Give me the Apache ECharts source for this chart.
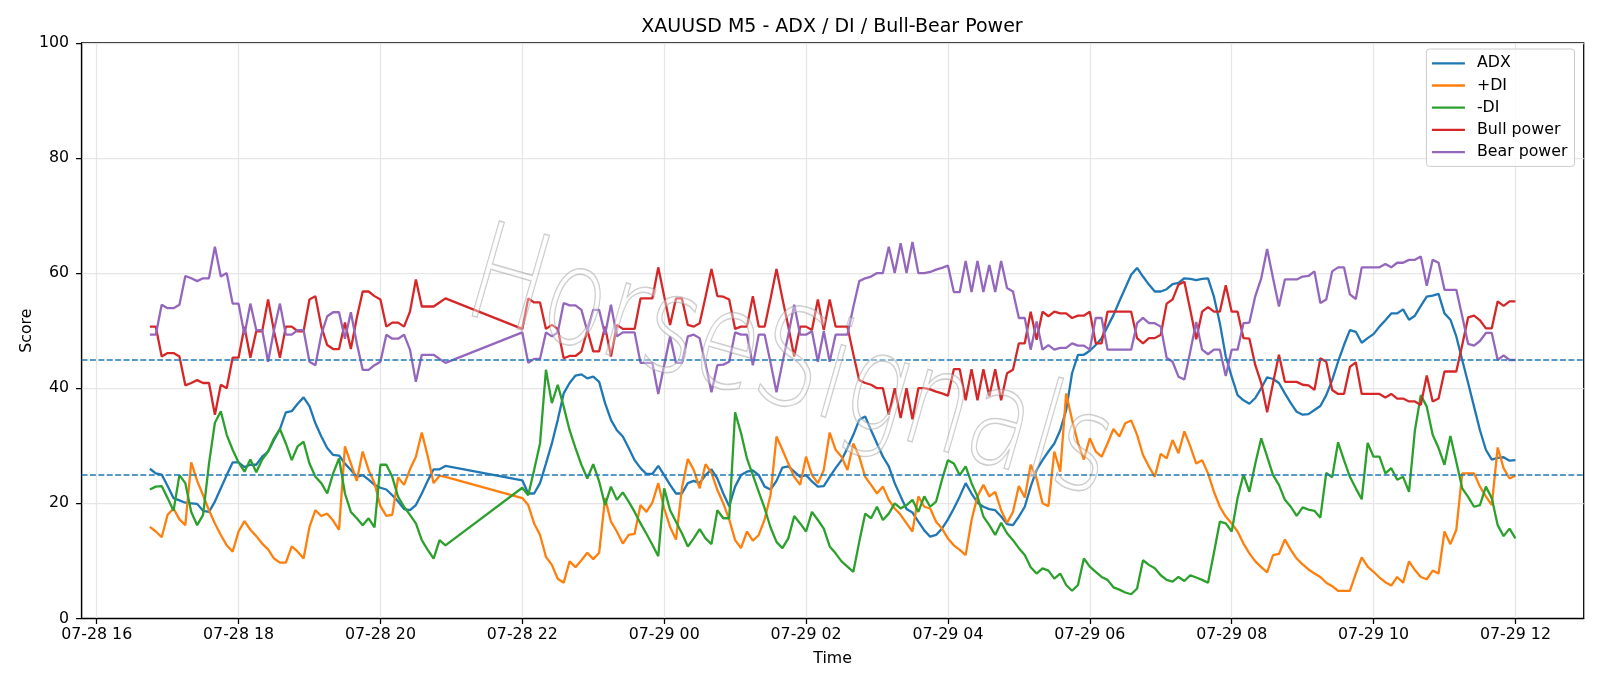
<!DOCTYPE html>
<html>
<head>
<meta charset="utf-8">
<title>XAUUSD M5 - ADX / DI / Bull-Bear Power</title>
<script src="https://cdn.jsdelivr.net/npm/echarts@6/dist/echarts.min.js"></script>
<style>
  html, body { margin: 0; padding: 0; background: #fff; }
  #mychart { width: 1600px; height: 686px; }
</style>
</head>
<body>
<div id="mychart"></div>
<script>
// two trading sessions of M5 bars (gap 21:00-22:00)
const sessions = [['2025-07-28T16:45', 51], ['2025-07-28T22:00', 169]];
const xTickLabels = ['07-28 16', '07-28 18', '07-28 20', '07-28 22', '07-29 00', '07-29 02',
  '07-29 04', '07-29 06', '07-29 08', '07-29 10', '07-29 12'];

const adx = [
  26.0, 25.2, 25.0, 23.0, 20.9, 20.5, 20.1, 20.0, 19.9, 18.7, 18.5, 20.3,
  22.6, 24.9, 27.1, 27.1, 26.3, 26.7, 26.7, 28.1, 29.0, 31.0, 32.9, 35.8,
  36.0, 37.3, 38.4, 36.9, 33.9, 31.6, 29.6, 28.4, 28.3, 26.9, 25.8, 24.6,
  24.9, 24.1, 23.2, 22.7, 22.4, 21.4, 20.3, 19.0, 18.8, 19.7, 21.7, 23.9,
  25.9, 25.9, 26.5,
  24.0, 21.7, 21.7, 23.5, 26.9, 30.4, 34.5, 39.1, 40.9, 42.2, 42.4, 41.7,
  42.0, 41.1, 37.4, 34.5, 32.7, 31.6, 29.6, 27.5, 26.1, 25.1, 25.1, 26.5,
  24.9, 23.2, 21.7, 21.7, 23.5, 23.9, 23.5, 24.9, 25.9, 24.3, 21.7, 19.5,
  22.9, 24.9, 25.5, 25.7, 24.9, 22.9, 22.4, 23.9, 26.2, 26.4, 25.5, 24.6,
  24.9, 23.8, 22.9, 23.0, 24.6, 26.1, 27.5, 29.6, 31.9, 34.5, 35.1, 32.7,
  30.4, 28.1, 26.4, 23.5, 21.2, 19.0, 18.4, 16.8, 15.3, 14.2, 14.5, 15.6,
  17.2, 19.1, 21.2, 23.5, 21.7, 20.1, 19.4, 19.0, 18.8, 17.7, 16.4, 16.2,
  17.7, 19.4, 22.9, 25.8, 27.5, 29.0, 30.4, 32.7, 36.2, 42.6, 45.8, 45.8,
  46.5, 47.5, 48.7, 50.7, 52.7, 55.1, 57.4, 59.7, 60.9, 59.4, 58.0, 56.8,
  56.8, 57.2, 58.1, 58.3, 59.1, 59.0, 58.8, 59.0, 59.1, 55.9, 51.3, 45.5,
  42.0, 38.8, 37.9, 37.3, 38.3, 40.0, 41.9, 41.6, 40.9, 39.1, 37.4, 35.9,
  35.4, 35.5, 36.2, 36.9, 38.8, 41.4, 44.6, 47.5, 50.1, 49.8, 47.9, 48.7,
  49.4, 50.7, 51.8, 53.0, 53.0, 53.7, 51.9, 52.6, 54.3, 55.9, 56.1, 56.4,
  53.0, 51.9, 49.0, 44.9, 40.9, 36.8, 32.7, 29.3, 27.6, 27.9, 28.0, 27.4,
  27.5
];
const plusDI = [
  15.9, 15.1, 14.1, 18.0, 19.1, 17.2, 16.2, 27.1, 23.9, 21.4, 18.8, 16.5,
  14.5, 12.7, 11.6, 15.1, 16.9, 15.4, 14.3, 13.0, 12.0, 10.4, 9.7, 9.7,
  12.5, 11.6, 10.4, 15.9, 18.8, 17.8, 18.2, 17.0, 15.4, 29.9, 26.9, 23.9,
  29.0, 25.8, 23.5, 19.5, 17.8, 18.0, 24.5, 23.2, 25.9, 28.1, 32.3, 28.2,
  23.5, 24.8, 24.6,
  20.9, 19.7, 16.5, 14.5, 10.7, 9.3, 6.9, 6.2, 9.9, 8.9, 10.1, 11.4,
  10.3, 11.4, 20.9, 16.8, 15.1, 13.0, 14.5, 14.7, 19.7, 18.5, 20.1, 23.5,
  19.1, 15.9, 13.7, 22.6, 27.7, 25.8, 22.6, 26.8, 25.3, 22.3, 20.0, 17.2,
  13.6, 12.2, 15.1, 13.5, 14.5, 17.2, 21.5, 31.6, 29.3, 26.9, 24.6, 23.2,
  28.1, 24.9, 23.5, 25.8, 32.3, 29.3, 28.1, 25.8, 30.4, 28.1, 24.6, 23.2,
  21.7, 22.9, 20.6, 19.1, 18.0, 16.5, 15.1, 21.2, 19.4, 19.1, 16.8, 15.6,
  13.9, 12.7, 11.9, 11.0, 17.1, 21.2, 23.2, 21.2, 22.0, 18.8, 16.6, 18.5,
  23.0, 21.0, 26.7, 24.3, 20.0, 19.5, 29.0, 25.5, 39.1, 34.5, 30.5, 27.6,
  31.3, 29.0, 28.1, 30.4, 32.9, 31.6, 33.9, 34.4, 31.9, 28.4, 26.4, 24.6,
  28.6, 27.8, 31.0, 28.7, 32.5, 29.9, 26.9, 27.5, 25.2, 22.0, 19.4, 17.7,
  16.5, 15.1, 13.0, 11.3, 9.9, 8.9, 8.0, 11.0, 11.2, 13.7, 11.9, 10.4,
  9.4, 8.5, 7.8, 7.2, 6.2, 5.6, 4.8, 4.8, 4.8, 7.8, 10.6, 9.0,
  8.1, 7.1, 6.3, 5.7, 7.2, 6.2, 9.9, 8.4, 7.2, 6.8, 8.3, 7.8,
  15.1, 12.9, 15.4, 25.2, 25.2, 25.2, 22.9, 21.2, 19.7, 29.7, 26.1, 24.3,
  24.8
];
const minusDI = [
  22.4, 22.9, 23.0, 20.9, 18.7, 24.9, 23.5, 18.5, 16.2, 18.0, 26.9, 34.0,
  36.0, 31.9, 29.3, 27.1, 25.5, 27.6, 25.4, 27.6, 29.0, 31.3, 32.9, 30.4,
  27.5, 29.9, 30.7, 26.9, 24.6, 23.5, 21.7, 25.2, 27.8, 21.7, 18.5, 17.4,
  16.2, 17.4, 15.8, 26.7, 26.7, 24.6, 21.1, 19.4, 18.0, 16.5, 13.6, 11.9,
  10.4, 13.6, 12.7,
  22.7, 21.4, 25.8, 30.4, 43.2, 37.4, 40.6, 36.8, 32.7, 29.6, 26.7, 24.3,
  26.8, 23.8, 19.7, 22.9, 20.6, 21.9, 20.3, 18.5, 16.5, 14.7, 12.8, 10.8,
  22.6, 18.8, 16.8, 14.8, 12.5, 13.9, 15.5, 13.9, 12.9, 18.8, 17.4, 17.4,
  35.8, 32.2, 27.8, 24.9, 22.0, 19.1, 15.8, 13.3, 12.2, 13.9, 17.8, 16.5,
  15.1, 18.5, 17.1, 15.6, 12.5, 11.3, 9.9, 9.0, 8.1, 13.3, 18.2, 17.4,
  19.4, 17.1, 18.2, 20.0, 19.1, 19.7, 20.6, 18.5, 21.2, 19.4, 20.3, 24.1,
  27.5, 26.9, 24.9, 26.4, 23.5, 21.2, 17.7, 16.2, 14.5, 16.6, 14.8, 13.6,
  12.2, 11.0, 8.9, 7.8, 8.7, 8.3, 6.9, 7.8, 5.8, 4.8, 5.8, 10.4,
  9.0, 8.1, 7.2, 6.7, 5.4, 5.0, 4.5, 4.2, 5.2, 10.1, 9.3, 8.7,
  7.5, 6.7, 6.4, 7.2, 6.5, 7.5, 7.1, 6.7, 6.2, 11.4, 16.8, 16.5,
  15.1, 20.9, 25.0, 22.0, 26.9, 31.3, 28.1, 24.9, 23.2, 20.6, 19.4, 17.8,
  19.3, 18.9, 18.7, 17.5, 25.3, 24.5, 30.6, 27.5, 24.6, 22.6, 20.7, 30.5,
  28.1, 28.1, 25.2, 26.1, 24.1, 24.6, 22.0, 32.7, 38.8, 36.8, 31.9, 29.6,
  26.7, 31.7, 27.2, 22.6, 21.1, 19.4, 19.7, 22.9, 20.9, 16.2, 14.3, 15.6,
  13.9
];
const bullPower = [
  50.7, 50.7, 45.5, 46.1, 46.1, 45.5, 40.5, 40.9, 41.4, 40.9, 40.9, 35.4,
  40.6, 40.0, 45.3, 45.3, 50.7, 45.3, 49.9, 49.9, 55.4, 49.9, 45.3, 50.7,
  50.7, 49.9, 49.9, 55.4, 56.0, 50.7, 47.5, 46.8, 46.8, 51.4, 46.8, 52.2,
  56.8, 56.8, 56.0, 55.4, 50.7, 51.4, 51.4, 50.7, 53.3, 58.9, 54.2, 54.2,
  54.2, 54.9, 55.6,
  50.3, 55.6, 54.9, 54.9, 50.3, 51.0, 50.3, 45.2, 45.6, 45.6, 46.4, 50.1,
  46.4, 46.4, 50.7, 45.5, 51.0, 50.3, 50.3, 50.3, 55.6, 55.6, 55.6, 61.0,
  56.0, 51.0, 55.6, 55.6, 51.0, 50.7, 51.3, 55.9, 60.7, 56.0, 55.9, 55.4,
  50.3, 50.7, 50.7, 56.0, 50.7, 50.7, 55.6, 60.7, 55.6, 50.7, 45.5, 50.7,
  50.7, 50.1, 55.4, 50.1, 55.4, 50.7, 50.7, 50.7, 45.9, 41.4, 40.9, 40.6,
  40.0, 40.0, 35.4, 40.0, 34.8, 40.0, 34.6, 40.0, 40.0, 39.8, 39.4, 39.1,
  38.7, 43.3, 43.3, 37.9, 43.3, 37.9, 43.3, 38.6, 43.3, 37.9, 42.6, 43.2,
  47.8, 47.8, 53.3, 48.4, 53.3, 52.5, 53.3, 53.0, 53.0, 52.2, 52.6, 52.6,
  53.3, 47.8, 47.8, 53.3, 53.3, 53.3, 53.3, 53.3, 48.7, 47.8, 48.7, 48.7,
  49.3, 54.7, 55.4, 58.0, 58.5, 53.6, 48.5, 53.3, 54.1, 53.3, 53.3, 57.9,
  53.3, 53.3, 48.7, 48.6, 44.0, 40.9, 35.8, 40.9, 45.8, 41.1, 41.1, 41.1,
  40.6, 40.5, 39.7, 45.2, 44.6, 39.7, 39.0, 39.0, 43.7, 44.5, 39.0, 39.0,
  39.0, 39.0, 38.4, 39.0, 38.2, 38.2, 37.7, 37.7, 37.1, 42.2, 37.7, 38.2,
  42.9, 42.9, 42.9, 47.5, 52.3, 52.6, 51.8, 50.4, 50.4, 55.1, 54.3, 55.1,
  55.1
];
const bearPower = [
  49.3, 49.3, 54.5, 53.9, 53.9, 54.5, 59.5, 59.1, 58.6, 59.1, 59.1, 64.6,
  59.4, 60.0, 54.7, 54.7, 49.3, 54.7, 50.1, 50.1, 44.6, 50.1, 54.7, 49.3,
  49.3, 50.1, 50.1, 44.6, 44.0, 49.3, 52.5, 53.2, 53.2, 48.6, 53.2, 47.8,
  43.2, 43.2, 44.0, 44.6, 49.3, 48.6, 48.6, 49.3, 46.7, 41.1, 45.8, 45.8,
  45.8, 45.1, 44.4,
  49.7, 44.4, 45.1, 45.1, 49.7, 49.0, 49.7, 54.8, 54.4, 54.4, 53.6, 49.9,
  53.6, 53.6, 49.3, 54.5, 49.0, 49.7, 49.7, 49.7, 44.4, 44.4, 44.4, 39.0,
  44.0, 49.0, 44.4, 44.4, 49.0, 49.3, 48.7, 44.1, 39.3, 44.0, 44.1, 44.6,
  49.7, 49.3, 49.3, 44.0, 49.3, 49.3, 44.4, 39.3, 44.4, 49.3, 54.5, 49.3,
  49.3, 49.9, 44.6, 49.9, 44.6, 49.3, 49.3, 49.3, 54.1, 58.6, 59.1, 59.4,
  60.0, 60.0, 64.6, 60.0, 65.2, 60.0, 65.4, 60.0, 60.0, 60.2, 60.6, 60.9,
  61.3, 56.7, 56.7, 62.1, 56.7, 62.1, 56.7, 61.4, 56.7, 62.1, 57.4, 56.8,
  52.2, 52.2, 46.7, 51.6, 46.7, 47.5, 46.7, 47.0, 47.0, 47.8, 47.4, 47.4,
  46.7, 52.2, 52.2, 46.7, 46.7, 46.7, 46.7, 46.7, 51.3, 52.2, 51.3, 51.3,
  50.7, 45.3, 44.6, 42.0, 41.5, 46.4, 51.5, 46.7, 45.9, 46.7, 46.7, 42.1,
  46.7, 46.7, 51.3, 51.4, 56.0, 59.1, 64.2, 59.1, 54.2, 58.9, 58.9, 58.9,
  59.4, 59.5, 60.3, 54.8, 55.4, 60.3, 61.0, 61.0, 56.3, 55.5, 61.0, 61.0,
  61.0, 61.0, 61.6, 61.0, 61.8, 61.8, 62.3, 62.3, 62.9, 57.8, 62.3, 61.8,
  57.1, 57.1, 57.1, 52.5, 47.7, 47.4, 48.2, 49.6, 49.6, 44.9, 45.7, 44.9,
  44.9
];
const levels = [25, 45];

const FONT = 'DejaVu Sans';
const FS = 15.8; // 10pt text
const step = 5 * 60 * 1000;
const times = [];
sessions.forEach(([start, n]) => {
  const t0 = new Date(start).getTime();
  for (let i = 0; i < n; i++) times.push(t0 + i * step);
});
const xTickValues = xTickLabels.map(s => new Date('2025-' + s.replace(' ', 'T') + ':00').getTime());
const pairs = arr => arr.map((v, i) => [times[i], v]);

function lineSeries(name, color, arr) {
  return {
    name: name,
    type: 'line',
    data: pairs(arr),
    showSymbol: false,
    symbol: 'none',
    lineStyle: { color: color, width: 2.3 },
    itemStyle: { color: color },
    emphasis: { disabled: true }
  };
}

const series = [
  lineSeries('ADX', '#1f77b4', adx),
  lineSeries('+DI', '#ff7f0e', plusDI),
  lineSeries('-DI', '#2ca02c', minusDI),
  lineSeries('Bull power', '#d62728', bullPower),
  lineSeries('Bear power', '#9467bd', bearPower)
];
series[0].markLine = {
  silent: true,
  symbol: ['none', 'none'],
  label: { show: false },
  lineStyle: { color: '#1f77b4', type: [5.9, 2.5], width: 1.5 },
  data: levels.map(v => ({ yAxis: v }))
};

const axisColor = { color: '#000', width: 1.25 };
const gridLine = { show: true, lineStyle: { color: '#e6e6e6', width: 1.25 } };

const option = {
  animation: false,
  backgroundColor: '#fff',
  textStyle: { fontFamily: FONT },
  title: {
    text: 'XAUUSD M5 - ADX / DI / Bull-Bear Power',
    left: 827,
    textAlign: 'center',
    top: 13,
    textStyle: { fontFamily: FONT, fontSize: 19, fontWeight: 'normal', color: '#000' }
  },
  legend: {
    orient: 'vertical',
    right: 25.5,
    top: 49,
    icon: 'rect',
    itemWidth: 33,
    itemHeight: 2.3,
    itemGap: 4.2,
    padding: [5.3, 7, 5.3, 5.5],
    borderColor: '#cccccc',
    borderWidth: 1,
    borderRadius: 3,
    backgroundColor: 'rgba(255,255,255,0.8)',
    textStyle: { fontFamily: FONT, fontSize: FS, color: '#000', lineHeight: 18, padding: [0, 0, 0, 7] },
    data: ['ADX', '+DI', '-DI', 'Bull power', 'Bear power']
  },
  grid: {
    left: 81.6, right: 16.3, top: 42.9, bottom: 67.6,
    show: true, borderColor: '#000', borderWidth: 1.25,
    outerBoundsMode: 'none'
  },
  xAxis: {
    type: 'value',
    min: new Date('2025-07-28T15:47:15').getTime(),
    max: new Date('2025-07-29T12:57:45').getTime(),
    name: 'Time',
    nameLocation: 'middle',
    nameGap: 32,
    nameTextStyle: { fontFamily: FONT, fontSize: FS, color: '#000' },
    axisLine: { show: true, lineStyle: axisColor },
    axisTick: { show: true, length: 5.5, lineStyle: axisColor, customValues: xTickValues },
    axisLabel: {
      customValues: xTickValues,
      margin: 8,
      fontFamily: FONT, fontSize: FS, color: '#000',
      formatter: v => {
        const i = xTickValues.indexOf(v);
        return i >= 0 ? xTickLabels[i] : '';
      }
    },
    splitLine: gridLine
  },
  yAxis: {
    type: 'value',
    min: 0,
    max: 100,
    interval: 20,
    name: 'Score',
    nameLocation: 'middle',
    nameGap: 47,
    nameMoveOverlap: false,
    nameTextStyle: { fontFamily: FONT, fontSize: FS, color: '#000' },
    axisLine: { show: true, lineStyle: axisColor },
    axisTick: { show: true, length: 5.5, lineStyle: axisColor },
    axisLabel: { margin: 12.5, fontFamily: FONT, fontSize: FS, color: '#000' },
    splitLine: gridLine
  },
  // faint watermark laid over the plot
  graphic: [{
    type: 'text',
    x: 789,
    y: 370,
    rotation: -16 * Math.PI / 180,
    scaleX: 0.76,
    z: 100,
    silent: true,
    style: {
      text: 'HorseSignals',
      font: '200 135px "DejaVu Sans"',
      align: 'center',
      verticalAlign: 'middle',
      fill: 'rgba(255,255,255,0.35)',
      stroke: 'rgba(140,140,140,0.5)',
      lineWidth: 1.6
    }
  }],
  series: series
};

const myChart = echarts.init(document.getElementById('mychart'));
myChart.setOption(option);
</script>
</body>
</html>
